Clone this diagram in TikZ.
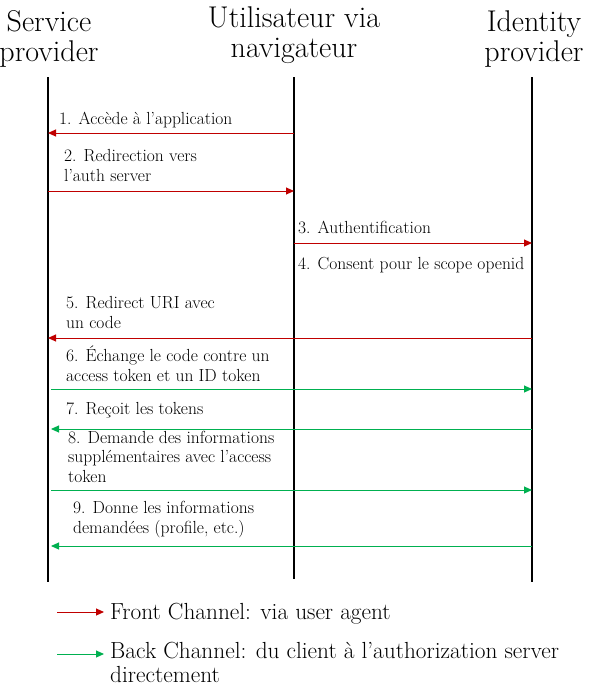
\documentclass[tikz,border=0pt]{standalone}
\usepackage{tikz}
\usetikzlibrary{arrows.meta,positioning}
\definecolor{frontred}{HTML}{C00000}
\definecolor{backgreen}{HTML}{00B050}

\begin{document}
\begin{tikzpicture}[
  x=1pt, y=-1pt,
  actor/.style={align=center, font=\fontsize{30}{30}\selectfont, anchor=base, inner sep=0pt},
  lifeline/.style={line width=1.7pt, black},
  msg/.style={font=\fontsize{17.5}{19.5}\selectfont, align=left, anchor=base west, inner sep=0pt},
  front/.style={-{Triangle[length=8pt, width=7pt]}, frontred, line width=1pt},
  back/.style={-{Triangle[length=8pt, width=7pt]}, backgreen, line width=1pt},
  legend/.style={font=\fontsize{23.3}{23.3}\selectfont, align=left, anchor=base west, inner sep=0pt}
]
\useasboundingbox (0,0) rectangle (592,693);

% Actors (base = last line)
\node[actor] (sp) at (49,62) {Service\\provider};
\node[actor] (usr) at (294,58) {Utilisateur via\\navigateur};
\node[actor] (idp) at (534,62) {Identity\\provider};

% Lifelines
\coordinate (sp top) at (48,77);   \coordinate (sp bot) at (48,582);
\coordinate (usr top) at (294,77); \coordinate (usr bot) at (294,579);
\coordinate (idp top) at (532,77); \coordinate (idp bot) at (532,582);
\draw[lifeline] (sp top) -- (sp bot);
\draw[lifeline] (usr top) -- (usr bot);
\draw[lifeline] (idp top) -- (idp bot);

% Message rows
\coordinate (r1) at (0,133);
\coordinate (r2) at (0,191);
\coordinate (r3) at (0,243);
\coordinate (r5) at (0,338);
\coordinate (r6) at (0,389);
\coordinate (r7) at (0,429);
\coordinate (r8) at (0,490);
\coordinate (r9) at (0,546);

% Front channel (via browser)
\draw[front] (usr top |- r1) -- (sp top |- r1);
\node[msg] (m1) at (59,124) {1. Accède à l'application};
\draw[front] (sp top |- r2) -- (usr top |- r2);
\node[msg] (m2) at (64,181) {2. Redirection vers\\l'auth server};
\draw[front] (usr top |- r3) -- (idp top |- r3);
\node[msg] (m3) at (298,233) {3. Authentification};
\node[msg] (m4) at (298,269) {4. Consent pour le scope openid};
\draw[front] (idp top |- r5) -- (sp top |- r5);
\node[msg] (m5) at (66,328) {5. Redirect URI avec\\un code};

% Back channel (direct)
\draw[back, shorten <=3pt] (sp top |- r6) -- (idp top |- r6);
\node[msg] (m6) at (66,381) {6. Échange le code contre un\\access token et un ID token};
\draw[back, shorten >=3pt] (idp top |- r7) -- (sp top |- r7);
\node[msg] (m7) at (66,414) {7. Reçoit les tokens};
\draw[back, shorten <=3pt] (sp top |- r8) -- (idp top |- r8);
\node[msg] (m8) at (68,482) {8. Demande des informations\\supplémentaires avec l'access\\token};
\draw[back, shorten >=3pt] (idp top |- r9) -- (sp top |- r9);
\node[msg] (m9) at (73,533) {9. Donne les informations\\demandées (profile, etc.)};

% Legend
\coordinate (lf a) at (57,612); \coordinate (lf b) at (104,612);
\coordinate (lb a) at (57,654); \coordinate (lb b) at (104,654);
\draw[front] (lf a) -- (lf b);
\node[legend] (lf) at (110,619) {Front Channel: via user agent};
\draw[back] (lb a) -- (lb b);
\node[legend] (lb) at (110,682) {Back Channel: du client à l'authorization server\\directement};

\end{tikzpicture}
\end{document}
